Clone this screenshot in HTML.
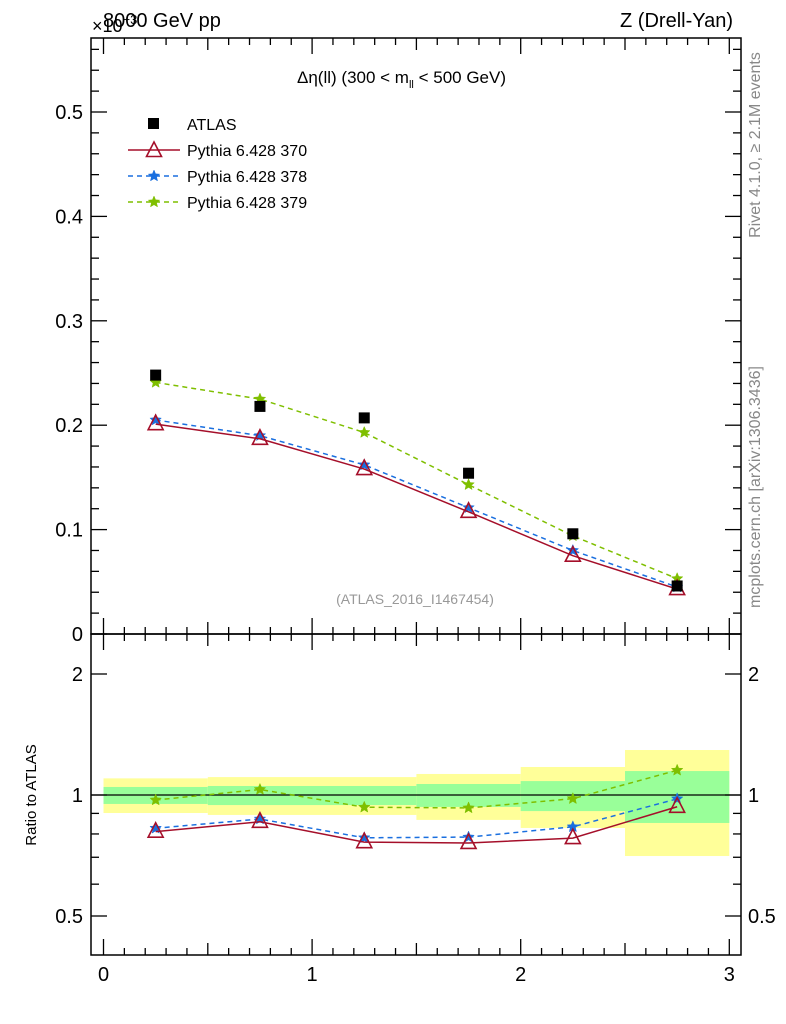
<!DOCTYPE html>
<html><head><meta charset="utf-8"><style>
body{margin:0;background:#fff;}
svg{display:block;font-family:"Liberation Sans",sans-serif;}
</style></head><body>
<svg id="c" width="786" height="1024"></svg>
<script>
const xCenters=[0.25,0.75,1.25,1.75,2.25,2.75];
const atlas=[0.248,0.218,0.207,0.154,0.096,0.046];
const py370=[0.201,0.187,0.158,0.117,0.075,0.043];
const py378=[0.205,0.190,0.162,0.121,0.080,0.045];
const py379=[0.241,0.225,0.193,0.143,0.094,0.053];
const bandEdges=[0,0.5,1.5,2,2.5,3];
const yelLo=[0.902,0.892,0.867,0.828,0.705];
const yelHi=[1.10,1.108,1.128,1.174,1.294];
const grnLo=[0.95,0.944,0.934,0.912,0.852];
const grnHi=[1.047,1.053,1.065,1.083,1.147];
const yTicks=[0.1,0.2,0.3,0.4,0.5];
const rTicks=[0.5,1,2];

const NS='http://www.w3.org/2000/svg',svg=document.getElementById('c');
function el(t,a,p){const e=document.createElementNS(NS,t);for(const k in a)e.setAttribute(k,a[k]);(p||svg).appendChild(e);return e;}
const L=91,R=741,T=38,M=634,B=955;
const X=v=>103.5+v*208.6;
const Y=v=>634-v*1044;
const RY=r=>795-121*Math.log2(r);

for(let i=0;i<5;i++){
 const b=el('rect',{x:X(bandEdges[i]),y:RY(yelHi[i]),width:X(bandEdges[i+1])-X(bandEdges[i]),height:RY(yelLo[i])-RY(yelHi[i]),fill:'#ffff99'});
 
 const g=el('rect',{x:X(bandEdges[i]),y:RY(grnHi[i]),width:X(bandEdges[i+1])-X(bandEdges[i]),height:RY(grnLo[i])-RY(grnHi[i]),fill:'#99ff99'});
 
}
el('line',{x1:L,x2:R,y1:RY(1),y2:RY(1),stroke:'#000','stroke-width':1.3});

const f1=el('rect',{x:L,y:T,width:R-L,height:M-T,fill:'none',stroke:'#000','stroke-width':1.5});

const f2=el('rect',{x:L,y:M,width:R-L,height:B-M,fill:'none',stroke:'#000','stroke-width':1.5});


for(let i=0;i<=30;i++){const v=i/10,x=X(v);const len=i%10==0?16:(i%5==0?12:7);
 [[T,1],[M,1],[M,-1],[B,-1]].forEach(([y0,d])=>{el('line',{x1:x,x2:x,y1:y0,y2:y0+d*len,stroke:'#000','stroke-width':1.3});});}
for(let i=0;i<=3;i++){const t=el('text',{x:X(i),y:981,'font-size':20,'text-anchor':'middle'});t.textContent=i;
 }
for(let i=0;i<=28;i++){const v=i*0.02,y=Y(v);if(y<T)continue;const len=i%5==0?16:8;
 el('line',{x1:L,x2:L+len,y1:y,y2:y,stroke:'#000','stroke-width':1.3});el('line',{x1:R,x2:R-len,y1:y,y2:y,stroke:'#000','stroke-width':1.3});}
yTicks.forEach(v=>{const t=el('text',{x:83,y:Y(v)+7,'font-size':20,'text-anchor':'end'});t.textContent=v.toFixed(1);
 });
el('text',{x:83,y:641,'font-size':20,'text-anchor':'end'}).textContent='0';
const rMinor=[0.5,0.6,0.7,0.8,0.9,1,2,3];
rMinor.forEach(r=>{const y=RY(r);if(y<M||y>B)return;const len=rTicks.includes(r)?16:8;
 el('line',{x1:L,x2:L+len,y1:y,y2:y,stroke:'#000','stroke-width':1.3});el('line',{x1:R,x2:R-len,y1:y,y2:y,stroke:'#000','stroke-width':1.3});});
rTicks.forEach(r=>{[[83,'end'],[748,'start']].forEach(([x,a])=>{const t=el('text',{x:x,y:RY(r)+7,'font-size':20,'text-anchor':a});t.textContent=r;
 });});

function star(cx,cy,r,col,parent){let p='';for(let k=0;k<10;k++){const a=-Math.PI/2+k*Math.PI/5,rr=k%2?r*0.45:r;p+=(cx+rr*Math.cos(a))+','+(cy+rr*Math.sin(a))+' ';}
 return el('polygon',{points:p,fill:col,stroke:col,'stroke-width':0.5},parent);}
function tri(cx,cy,parent){return el('polygon',{points:`${cx},${cy-9} ${cx-7.5},${cy+5.5} ${cx+7.5},${cy+5.5}`,fill:'none',stroke:'#a50f2a','stroke-width':1.6},parent);}
const series=[[py379,'#7fbf00','5,4','star'],[py378,'#1a6fdf','5,4','star'],[py370,'#a50f2a','','tri']];
series.forEach(([d,col,dash,m])=>{
 const pts=d.map((v,i)=>X(xCenters[i])+','+Y(v)).join(' ');
 const l=el('polyline',{points:pts,fill:'none',stroke:col,'stroke-width':1.5,'stroke-dasharray':dash});
 
 const rp=d.map((v,i)=>X(xCenters[i])+','+RY(v/atlas[i])).join(' ');
 const l2=el('polyline',{points:rp,fill:'none',stroke:col,'stroke-width':1.5,'stroke-dasharray':dash});
 
 d.forEach((v,i)=>{const x=X(xCenters[i]);
  const a=m=='star'?star(x,Y(v),6,col):tri(x,Y(v));
  const b=m=='star'?star(x,RY(v/atlas[i]),6,col):tri(x,RY(v/atlas[i]));});
});
atlas.forEach((v,i)=>{const s=el('rect',{x:X(xCenters[i])-5.5,y:Y(v)-5.5,width:11,height:11,fill:'#000'});
 });

const lg=el('g',{});
el('rect',{x:148,y:118,width:11,height:11,fill:'#000'},lg);
const ent=[['ATLAS',null],['Pythia 6.428 370','#a50f2a'],['Pythia 6.428 378','#1a6fdf'],['Pythia 6.428 379','#7fbf00']];
ent.forEach(([n,c],i)=>{const y=124+i*26;const t=el('text',{x:187,y:y+6,'font-size':16},lg);t.textContent=n;
 if(i>0){el('line',{x1:128,x2:180,y1:y,y2:y,stroke:c,'stroke-width':1.5,'stroke-dasharray':i==1?'':'5,4'},lg);
 if(i==1)tri(154,y+1,lg);else star(154,y,6,c,lg);}});

function txt(s,a,name){const t=el('text',a);t.innerHTML=s;return t;}
txt('8000 GeV pp',{x:103,y:27,'font-size':20},'energy-label');
txt('×10<tspan dy="-8" font-size="13">−3</tspan>',{x:92,y:32,'font-size':18},'y-scale-label');
txt('Z (Drell-Yan)',{x:733,y:27,'font-size':20,'text-anchor':'end'},'process-label');
txt('Δη(ll) (300 &lt; m<tspan dy="5" font-size="11">ll</tspan><tspan dy="-5"> &lt; 500 GeV)</tspan>',{x:297,y:83,'font-size':17},'plot-title');
txt('(ATLAS_2016_I1467454)',{x:415,y:604,'font-size':14,fill:'#999','text-anchor':'middle'},'analysis-id');
txt('Ratio to ATLAS',{x:36,y:795,'font-size':15,'text-anchor':'middle',transform:'rotate(-90 36 795)'},'ratio-y-title');
txt('Rivet 4.1.0, ≥ 2.1M events',{x:760,y:145,'font-size':16,fill:'#888','text-anchor':'middle',transform:'rotate(-90 760 145)'},'rivet-label');
txt('mcplots.cern.ch [arXiv:1306.3436]',{x:760,y:487,'font-size':16,fill:'#888','text-anchor':'middle',transform:'rotate(-90 760 487)'},'mcplots-label');
</script>
</body></html>
